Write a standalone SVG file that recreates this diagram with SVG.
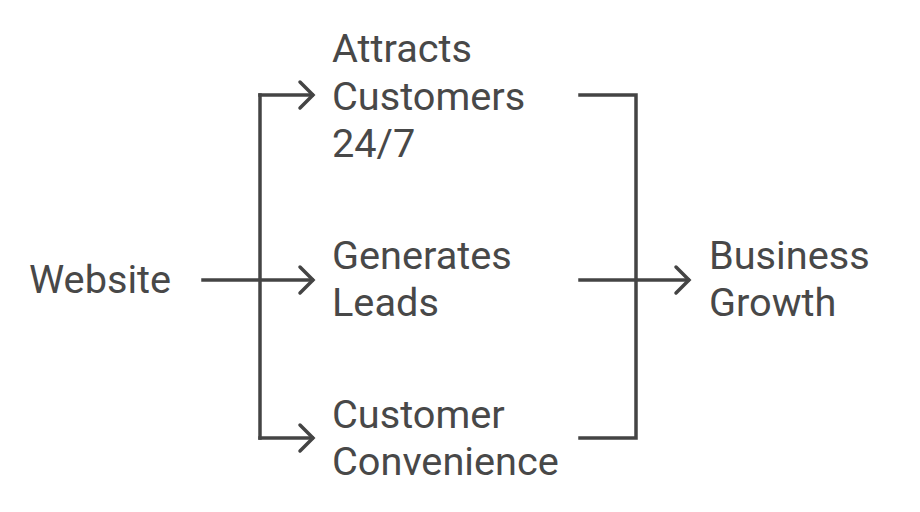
<svg xmlns="http://www.w3.org/2000/svg" width="920" height="512" viewBox="0 0 920 512">
<defs>
<style>
.t{font-family:Roboto,"Liberation Sans",sans-serif;font-size:39.7px;fill:#484848}
.c{fill:none;stroke:#444;stroke-width:3.5;stroke-linecap:square;stroke-linejoin:miter}
.h{fill:none;stroke:#444;stroke-width:3.5;stroke-linecap:round;stroke-linejoin:miter}
</style>
</defs>
<rect width="920" height="512" fill="#fff"/>
<g id="connectors">
<path class="c" d="M203 280H312"/>
<path class="c" d="M260 95V438"/>
<path class="c" d="M260 95H312"/>
<path class="c" d="M260 438H312"/>
<path class="h" d="M300 82L313 95L300 108"/>
<path class="h" d="M300 267L313 280L300 293"/>
<path class="h" d="M300 425L313 438L300 451"/>
<path class="c" d="M580 95H636V438H580"/>
<path class="c" d="M580 280H688"/>
<path class="h" d="M676 267L689 280L676 293"/>
</g>
<g id="website"><text class="t" x="29" y="293">Website</text></g>
<g id="attracts"><text class="t" x="332" y="62">Attracts</text><text class="t" x="332" y="110">Customers</text><text class="t" x="332" y="157">24/7</text></g>
<g id="leads"><text class="t" x="332" y="269">Generates</text><text class="t" x="332" y="316">Leads</text></g>
<g id="convenience"><text class="t" x="332" y="428">Customer</text><text class="t" x="332" y="475">Convenience</text></g>
<g id="growth"><text class="t" x="709" y="269">Business</text><text class="t" x="709" y="316">Growth</text></g>
</svg>
